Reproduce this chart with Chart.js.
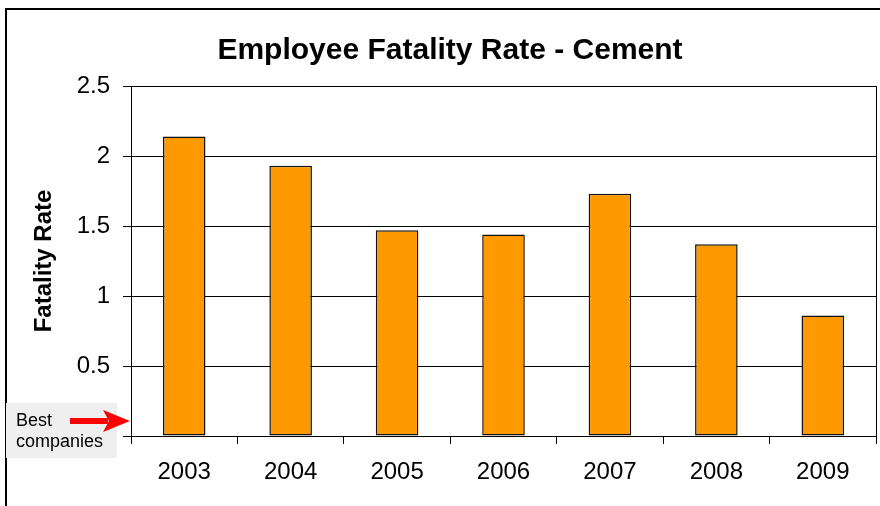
<!DOCTYPE html>
<html>
<head>
<meta charset="utf-8">
<script src="https://cdn.jsdelivr.net/npm/chart.js@4/dist/chart.umd.min.js"></script>
<style>
  html, body { margin: 0; padding: 0; background: #ffffff; }
  #wrap { width: 880px; height: 506px; position: relative; }
</style>
</head>
<body>
<div id="wrap"><canvas id="c" width="880" height="506"></canvas></div>
<script>
const years = ['2003', '2004', '2005', '2006', '2007', '2008', '2009'];
const fatalityRates = [2.14, 1.93, 1.47, 1.44, 1.73, 1.37, 0.86];
const yTicks = [0, 0.5, 1, 1.5, 2, 2.5];
const chartTitle = 'Employee Fatality Rate - Cement';
const yAxisTitle = 'Fatality Rate';
const noteLines = ['Best', 'companies'];

const FONT = '"Liberation Sans", Arial, sans-serif';

const decorPlugin = {
  id: 'decor',
  beforeDraw(chart) {
    const ctx = chart.ctx;
    ctx.save();
    ctx.fillStyle = '#ffffff';
    ctx.fillRect(0, 0, chart.width, chart.height);
    ctx.restore();
  },
  afterDraw(chart) {
    const ctx = chart.ctx;
    const area = chart.chartArea;
    const y = chart.scales.y;
    ctx.save();
    // outer frame (left & top visible)
    ctx.strokeStyle = '#000';
    ctx.lineWidth = 2;
    ctx.beginPath();
    ctx.moveTo(6, chart.height + 5);
    ctx.lineTo(6, 9);
    ctx.lineTo(chart.width + 5, 9);
    ctx.stroke();
    // right edge of plot area
    ctx.lineWidth = 1;
    ctx.beginPath();
    ctx.moveTo(Math.round(area.right) + 0.5, area.top);
    ctx.lineTo(Math.round(area.right) + 0.5, area.bottom);
    ctx.stroke();
    // note box
    ctx.fillStyle = '#efefef';
    ctx.fillRect(6, 403, 111, 55);
    ctx.fillStyle = '#000';
    ctx.font = '18px ' + FONT;
    ctx.textBaseline = 'alphabetic';
    ctx.textAlign = 'left';
    ctx.fillText(noteLines[0], 16, 426);
    ctx.fillText(noteLines[1], 16, 447);
    // red arrow pointing at the axis near the bottom
    const ay = Math.round(y.getPixelForValue(0.11));
    const tipX = area.left - 1;
    ctx.fillStyle = '#ff0000';
    ctx.fillRect(70, ay - 3, 38, 6);
    ctx.beginPath();
    ctx.moveTo(tipX, ay);
    ctx.lineTo(tipX - 27, ay - 11);
    ctx.lineTo(tipX - 21, ay);
    ctx.lineTo(tipX - 27, ay + 11);
    ctx.closePath();
    ctx.fill();
    ctx.restore();
  }
};

new Chart(document.getElementById('c'), {
  type: 'bar',
  data: {
    labels: years,
    datasets: [{
      data: fatalityRates,
      backgroundColor: '#ff9900',
      borderColor: '#111111',
      borderWidth: 1.5,
      borderSkipped: false,
      barPercentage: 0.4,
      categoryPercentage: 1.0
    }]
  },
  options: {
    responsive: false,
    animation: false,
    devicePixelRatio: 1,
    layout: { padding: { left: 24, right: 4, top: 0, bottom: 0 } },
    plugins: {
      legend: { display: false },
      tooltip: { enabled: false },
      title: {
        display: true,
        text: chartTitle,
        color: '#000',
        font: { family: FONT, size: 30, weight: 'bold' },
        padding: { top: 33, bottom: 17 }
      }
    },
    scales: {
      x: {
        offset: true,
        grid: {
          display: true,
          drawOnChartArea: false,
          drawTicks: true,
          tickLength: 8,
          color: '#000',
          lineWidth: 1
        },
        border: { display: true, color: '#000', width: 1 },
        ticks: {
          color: '#000',
          font: { family: FONT, size: 24 },
          padding: 14,
          maxRotation: 0
        },
        afterFit(scale) { scale.height = 70; }
      },
      y: {
        min: 0,
        max: 2.5,
        afterBuildTicks(scale) { scale.ticks = yTicks.map(v => ({ value: v })); },
        grid: {
          display: true,
          drawOnChartArea: true,
          tickLength: 8,
          color: '#000',
          lineWidth: 1
        },
        border: { display: true, color: '#000', width: 1 },
        ticks: {
          color: '#000',
          font: { family: FONT, size: 24 },
          padding: 13,
          callback: (v) => String(v)
        },
        title: {
          display: true,
          text: yAxisTitle,
          color: '#000',
          font: { family: FONT, size: 24, weight: 'bold' },
          padding: { top: 6, bottom: 0 }
        },
        afterFit(scale) { scale.width = 107; }
      }
    }
  },
  plugins: [decorPlugin]
});
</script>
</body>
</html>
